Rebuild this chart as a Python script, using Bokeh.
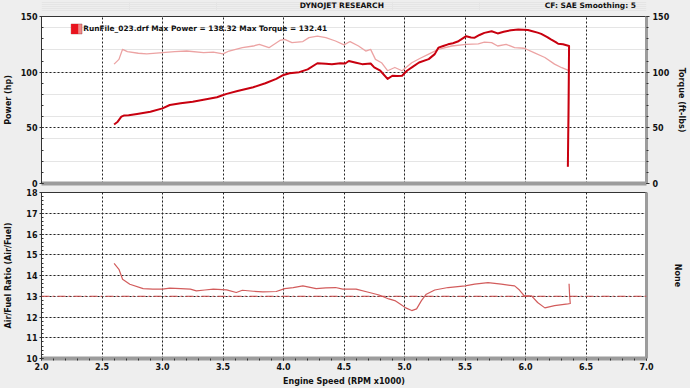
from bokeh.plotting import figure
from bokeh.models import (Range1d, LinearAxis, FixedTicker, Span, Label, Grid, BoxAnnotation)
from bokeh.layouts import column
from bokeh.embed import file_html
from bokeh.resources import INLINE

# ---------------- data ----------------
rpm_ticks = [2.0, 2.5, 3.0, 3.5, 4.0, 4.5, 5.0, 5.5, 6.0, 6.5, 7.0]
rpm_tick_labels = ["2.0", "2.5", "3.0", "3.5", "4.0", "4.5", "5.0", "5.5", "6.0", "6.5", "7.0"]
rpm_minor_ticks = [round(2.0 + 0.1 * i, 1) for i in range(51)]

power_ticks = [0, 50, 100, 150]
power_minor_ticks = list(range(0, 151, 10))
afr_ticks = [10, 11, 12, 13, 14, 15, 16, 17, 18]
afr_minor_ticks = [round(10 + 0.2 * i, 1) for i in range(41)]
afr_grid = [11, 12, 13, 14, 15, 16, 17]
afr_target = 13

power_rpm = [2.60, 2.63, 2.66, 2.68, 2.72, 2.79, 2.90, 3.00, 3.06, 3.15, 3.25, 3.35, 3.45, 3.49,
             3.53, 3.62, 3.75, 3.85, 3.94, 4.00, 4.05, 4.13, 4.20, 4.28, 4.35, 4.40, 4.47, 4.51,
             4.54, 4.60, 4.65, 4.72, 4.75, 4.80, 4.86, 4.90, 4.94, 4.98, 5.02, 5.07, 5.12, 5.20,
             5.25, 5.28, 5.32, 5.36, 5.40, 5.44, 5.51, 5.55, 5.58, 5.62, 5.66, 5.72, 5.77, 5.82,
             5.88, 5.94, 6.02, 6.05, 6.10, 6.13, 6.18, 6.21, 6.25, 6.27, 6.31, 6.36, 6.355, 6.35]
power_hp = [53.0, 55.5, 60.0, 61.0, 61.3, 62.5, 64.5, 67.5, 70.5, 72.0, 73.5, 75.5, 77.5, 79.0,
            80.5, 83.0, 86.5, 90.0, 94.0, 97.5, 99.0, 100.0, 102.5, 108.0, 107.5, 107.2, 108.0, 107.8,
            110.0, 108.5, 107.2, 107.8, 104.3, 101.3, 94.0, 96.8, 96.5, 96.8, 101.3, 105.0, 108.7, 111.7,
            116.2, 122.0, 123.5, 125.0, 126.0, 127.5, 132.3, 131.2, 131.0, 133.4, 135.3, 136.8, 134.8, 136.3,
            137.7, 138.3, 137.8, 137.0, 135.5, 134.4, 131.5, 129.5, 127.0, 125.5, 125.0, 123.5, 60.0, 15.0]

torque_rpm = [2.60, 2.64, 2.67, 2.71, 2.80, 2.87, 3.00, 3.10, 3.20, 3.34, 3.42, 3.50, 3.55, 3.66,
              3.75, 3.80, 3.88, 3.97, 4.01, 4.07, 4.16, 4.21, 4.28, 4.35, 4.43, 4.50, 4.55, 4.62,
              4.68, 4.72, 4.76, 4.81, 4.86, 4.92, 4.98, 5.06, 5.13, 5.20, 5.28, 5.39, 5.51, 5.61,
              5.66, 5.72, 5.77, 5.84, 5.91, 5.99, 6.07, 6.16, 6.24, 6.30, 6.36, 6.355, 6.35]
torque_ftlb = [107.2, 111.5, 120.5, 118.5, 117.0, 116.5, 117.5, 118.5, 119.0, 117.5, 118.0, 116.5, 119.0, 122.0,
               123.5, 125.0, 122.0, 128.5, 129.5, 126.5, 127.5, 131.0, 132.4, 131.0, 128.0, 124.5, 127.5, 123.5,
               119.0, 120.5, 111.5, 108.5, 101.3, 104.2, 101.3, 108.5, 112.5, 116.2, 120.5, 123.5, 125.0, 125.5,
               127.0, 126.5, 123.5, 125.0, 122.0, 121.5, 117.5, 113.2, 107.2, 104.0, 101.3, 50.0, 15.0]

afr_rpm = [2.60, 2.64, 2.67, 2.73, 2.84, 2.92, 3.00, 3.06, 3.15, 3.23, 3.28, 3.35, 3.42, 3.53,
           3.61, 3.66, 3.75, 3.83, 3.94, 4.01, 4.08, 4.16, 4.27, 4.35, 4.43, 4.49, 4.60, 4.71,
           4.79, 4.87, 4.92, 4.97, 5.01, 5.06, 5.10, 5.14, 5.18, 5.25, 5.36, 5.50, 5.58, 5.69,
           5.80, 5.91, 5.95, 5.99, 6.05, 6.10, 6.16, 6.24, 6.35, 6.37, 6.365, 6.36]
afr_ratio = [14.58, 14.30, 13.82, 13.58, 13.37, 13.34, 13.34, 13.39, 13.37, 13.34, 13.26, 13.30, 13.34, 13.31,
             13.18, 13.29, 13.24, 13.21, 13.23, 13.37, 13.42, 13.50, 13.37, 13.40, 13.42, 13.34, 13.34, 13.18,
             13.06, 12.87, 12.79, 12.60, 12.44, 12.31, 12.39, 12.79, 13.10, 13.30, 13.42, 13.50, 13.58, 13.66,
             13.58, 13.50, 13.30, 13.02, 13.02, 12.70, 12.44, 12.55, 12.63, 12.65, 13.00, 13.60]

legend_text = "RunFile_023.drf Max Power = 138.32 Max Torque = 132.41"
title_text = "DYNOJET RESEARCH"
info_text = "CF: SAE  Smoothing: 5"

# ---------------- styling ----------------
W = 690
BG = "#eeeeee"
FONT = "DejaVu Sans"
TXT = "#111111"
POWER_C = "#c8000f"
TORQUE_C = "#eca3a3"
AFR_C = "#d25c5c"
GRID_C = "#222222"
SHADOW = "#9c9c9c"
FS = "8px"


def style_axis(ax):
    ax.major_label_text_font = FONT
    ax.major_label_text_font_style = "bold"
    ax.major_label_text_font_size = FS
    ax.major_label_text_color = TXT
    ax.axis_label_text_font = FONT
    ax.axis_label_text_font_style = "bold"
    ax.axis_label_text_font_size = FS
    ax.axis_label_text_color = TXT
    ax.major_tick_line_color = "#333333"
    ax.minor_tick_line_color = "#333333"


xr = Range1d(2.0, 7.0)

# ---------------- header strip (titles) ----------------
head = figure(width=W, height=11, x_range=Range1d(0, W), y_range=Range1d(0, 11),
              output_backend="svg", toolbar_location=None,
              x_axis_location=None, y_axis_location=None,
              min_border=0, border_fill_color=BG, background_fill_color=BG,
              outline_line_color=None)
head.add_layout(Label(x=342.5, y=6.6, text=title_text, text_align="center", text_baseline="middle",
                      text_font=FONT, text_font_style="bold", text_font_size="7.5px", text_color=TXT))
head.add_layout(Label(x=681, y=6.6, text=info_text, text_align="right", text_baseline="middle",
                      text_font=FONT, text_font_style="bold", text_font_size="7.5px", text_color=TXT))

# ---------------- top panel ----------------
top = figure(width=W, height=177, x_range=xr, y_range=Range1d(0, 150),
             output_backend="svg", toolbar_location=None,
             x_axis_location=None, y_axis_location=None,
             min_border_left=38, min_border_right=44, min_border_top=5, min_border_bottom=5,
             border_fill_color=BG, background_fill_color="white",
             outline_line_color="#333333", outline_line_width=1)

top.add_layout(Grid(dimension=0, ticker=FixedTicker(ticks=rpm_ticks),
                    grid_line_color=GRID_C, grid_line_dash="2 2", grid_line_width=1))
top.add_layout(Grid(dimension=1, ticker=FixedTicker(ticks=power_ticks),
                    grid_line_color=GRID_C, grid_line_dash="2 2", grid_line_width=1))

xb_top = LinearAxis(ticker=FixedTicker(ticks=[]), axis_line_width=4, axis_line_color=SHADOW,
                    major_tick_out=0, major_tick_in=0, minor_tick_out=0, minor_tick_in=0,
                    major_label_standoff=0, major_label_text_font_size="0px")
top.add_layout(xb_top, "below")

yl_top = LinearAxis(ticker=FixedTicker(ticks=power_ticks, minor_ticks=power_minor_ticks),
                    axis_label="Power (hp)")
style_axis(yl_top)
yl_top.axis_line_color = "#333333"
yl_top.major_tick_in = 2
yl_top.major_tick_out = 2
yl_top.minor_tick_in = 2
yl_top.minor_tick_out = 0
yl_top.major_label_standoff = 2
yl_top.axis_label_standoff = 5
top.add_layout(yl_top, "left")

yr_top = LinearAxis(ticker=FixedTicker(ticks=power_ticks, minor_ticks=power_minor_ticks),
                    axis_label="Torque (ft-lbs)")
style_axis(yr_top)
yr_top.axis_line_width = 3
yr_top.axis_line_color = SHADOW
yr_top.major_tick_in = 0
yr_top.major_tick_out = 3
yr_top.minor_tick_in = 0
yr_top.minor_tick_out = 2
yr_top.major_label_standoff = 3
yr_top.axis_label_standoff = 5
top.add_layout(yr_top, "right")

top.line(torque_rpm, torque_ftlb, line_color=TORQUE_C, line_width=1.3, line_join="round")
top.line(power_rpm, power_hp, line_color=POWER_C, line_width=2, line_join="round")

# legend: swatch + text
top.add_layout(BoxAnnotation(left=2.245, right=2.335, bottom=134.3, top=143.3,
                             fill_color="#f08a8a", fill_alpha=1, line_color="#6e0000", line_width=1))
top.add_layout(BoxAnnotation(left=2.245, right=2.303, bottom=134.3, top=143.3,
                             fill_color="#e8141e", fill_alpha=1, line_color=None))
top.add_layout(Label(x=2.345, y=138.8, text=legend_text, text_align="left", text_baseline="middle",
                     text_font=FONT, text_font_style="bold", text_font_size="7.4px", text_color=TXT))

# ---------------- bottom panel ----------------
bot = figure(width=W, height=200, x_range=xr, y_range=Range1d(10, 18),
             output_backend="svg", toolbar_location=None,
             x_axis_location=None, y_axis_location=None,
             min_border_left=38, min_border_right=44, min_border_top=4, min_border_bottom=29,
             border_fill_color=BG, background_fill_color="white",
             outline_line_color="#333333", outline_line_width=1)

bot.add_layout(Grid(dimension=0, ticker=FixedTicker(ticks=rpm_ticks),
                    grid_line_color=GRID_C, grid_line_dash="2 2", grid_line_width=1))
bot.add_layout(Grid(dimension=1, ticker=FixedTicker(ticks=afr_grid),
                    grid_line_color=GRID_C, grid_line_dash="2 2", grid_line_width=1))

xb = LinearAxis(ticker=FixedTicker(ticks=rpm_ticks, minor_ticks=rpm_minor_ticks),
                axis_label="Engine Speed (RPM x1000)",
                major_label_overrides={t: s for t, s in zip(rpm_ticks, rpm_tick_labels)})
style_axis(xb)
xb.axis_line_width = 4
xb.axis_line_color = SHADOW
xb.major_tick_in = 0
xb.major_tick_out = 2
xb.minor_tick_in = 0
xb.minor_tick_out = 2
xb.major_label_standoff = 2
xb.axis_label_standoff = 4
bot.add_layout(xb, "below")

yl = LinearAxis(ticker=FixedTicker(ticks=afr_ticks, minor_ticks=afr_minor_ticks),
                axis_label="Air/Fuel Ratio (Air/Fuel)")
style_axis(yl)
yl.axis_line_color = "#333333"
yl.major_tick_in = 2
yl.major_tick_out = 2
yl.minor_tick_in = 2
yl.minor_tick_out = 0
yl.major_label_standoff = 2
yl.axis_label_standoff = 10
bot.add_layout(yl, "left")

yr = LinearAxis(ticker=FixedTicker(ticks=[]), axis_label="None")
style_axis(yr)
yr.major_label_text_font_size = "0px"
yr.axis_line_width = 3
yr.axis_line_color = SHADOW
yr.major_tick_out = 0
yr.minor_tick_out = 0
yr.major_label_standoff = 0
yr.axis_label_standoff = 26
bot.add_layout(yr, "right")

bot.add_layout(Span(location=afr_target, dimension="width", line_color="#cc4a4a",
                    line_dash="8 3 2 3", line_width=1))
bot.line(afr_rpm, afr_ratio, line_color=AFR_C, line_width=1.2, line_join="round")

layout = column(head, top, bot, spacing=0)
layout.background = BG

open("out.html", "w").write(file_html(layout, INLINE))
